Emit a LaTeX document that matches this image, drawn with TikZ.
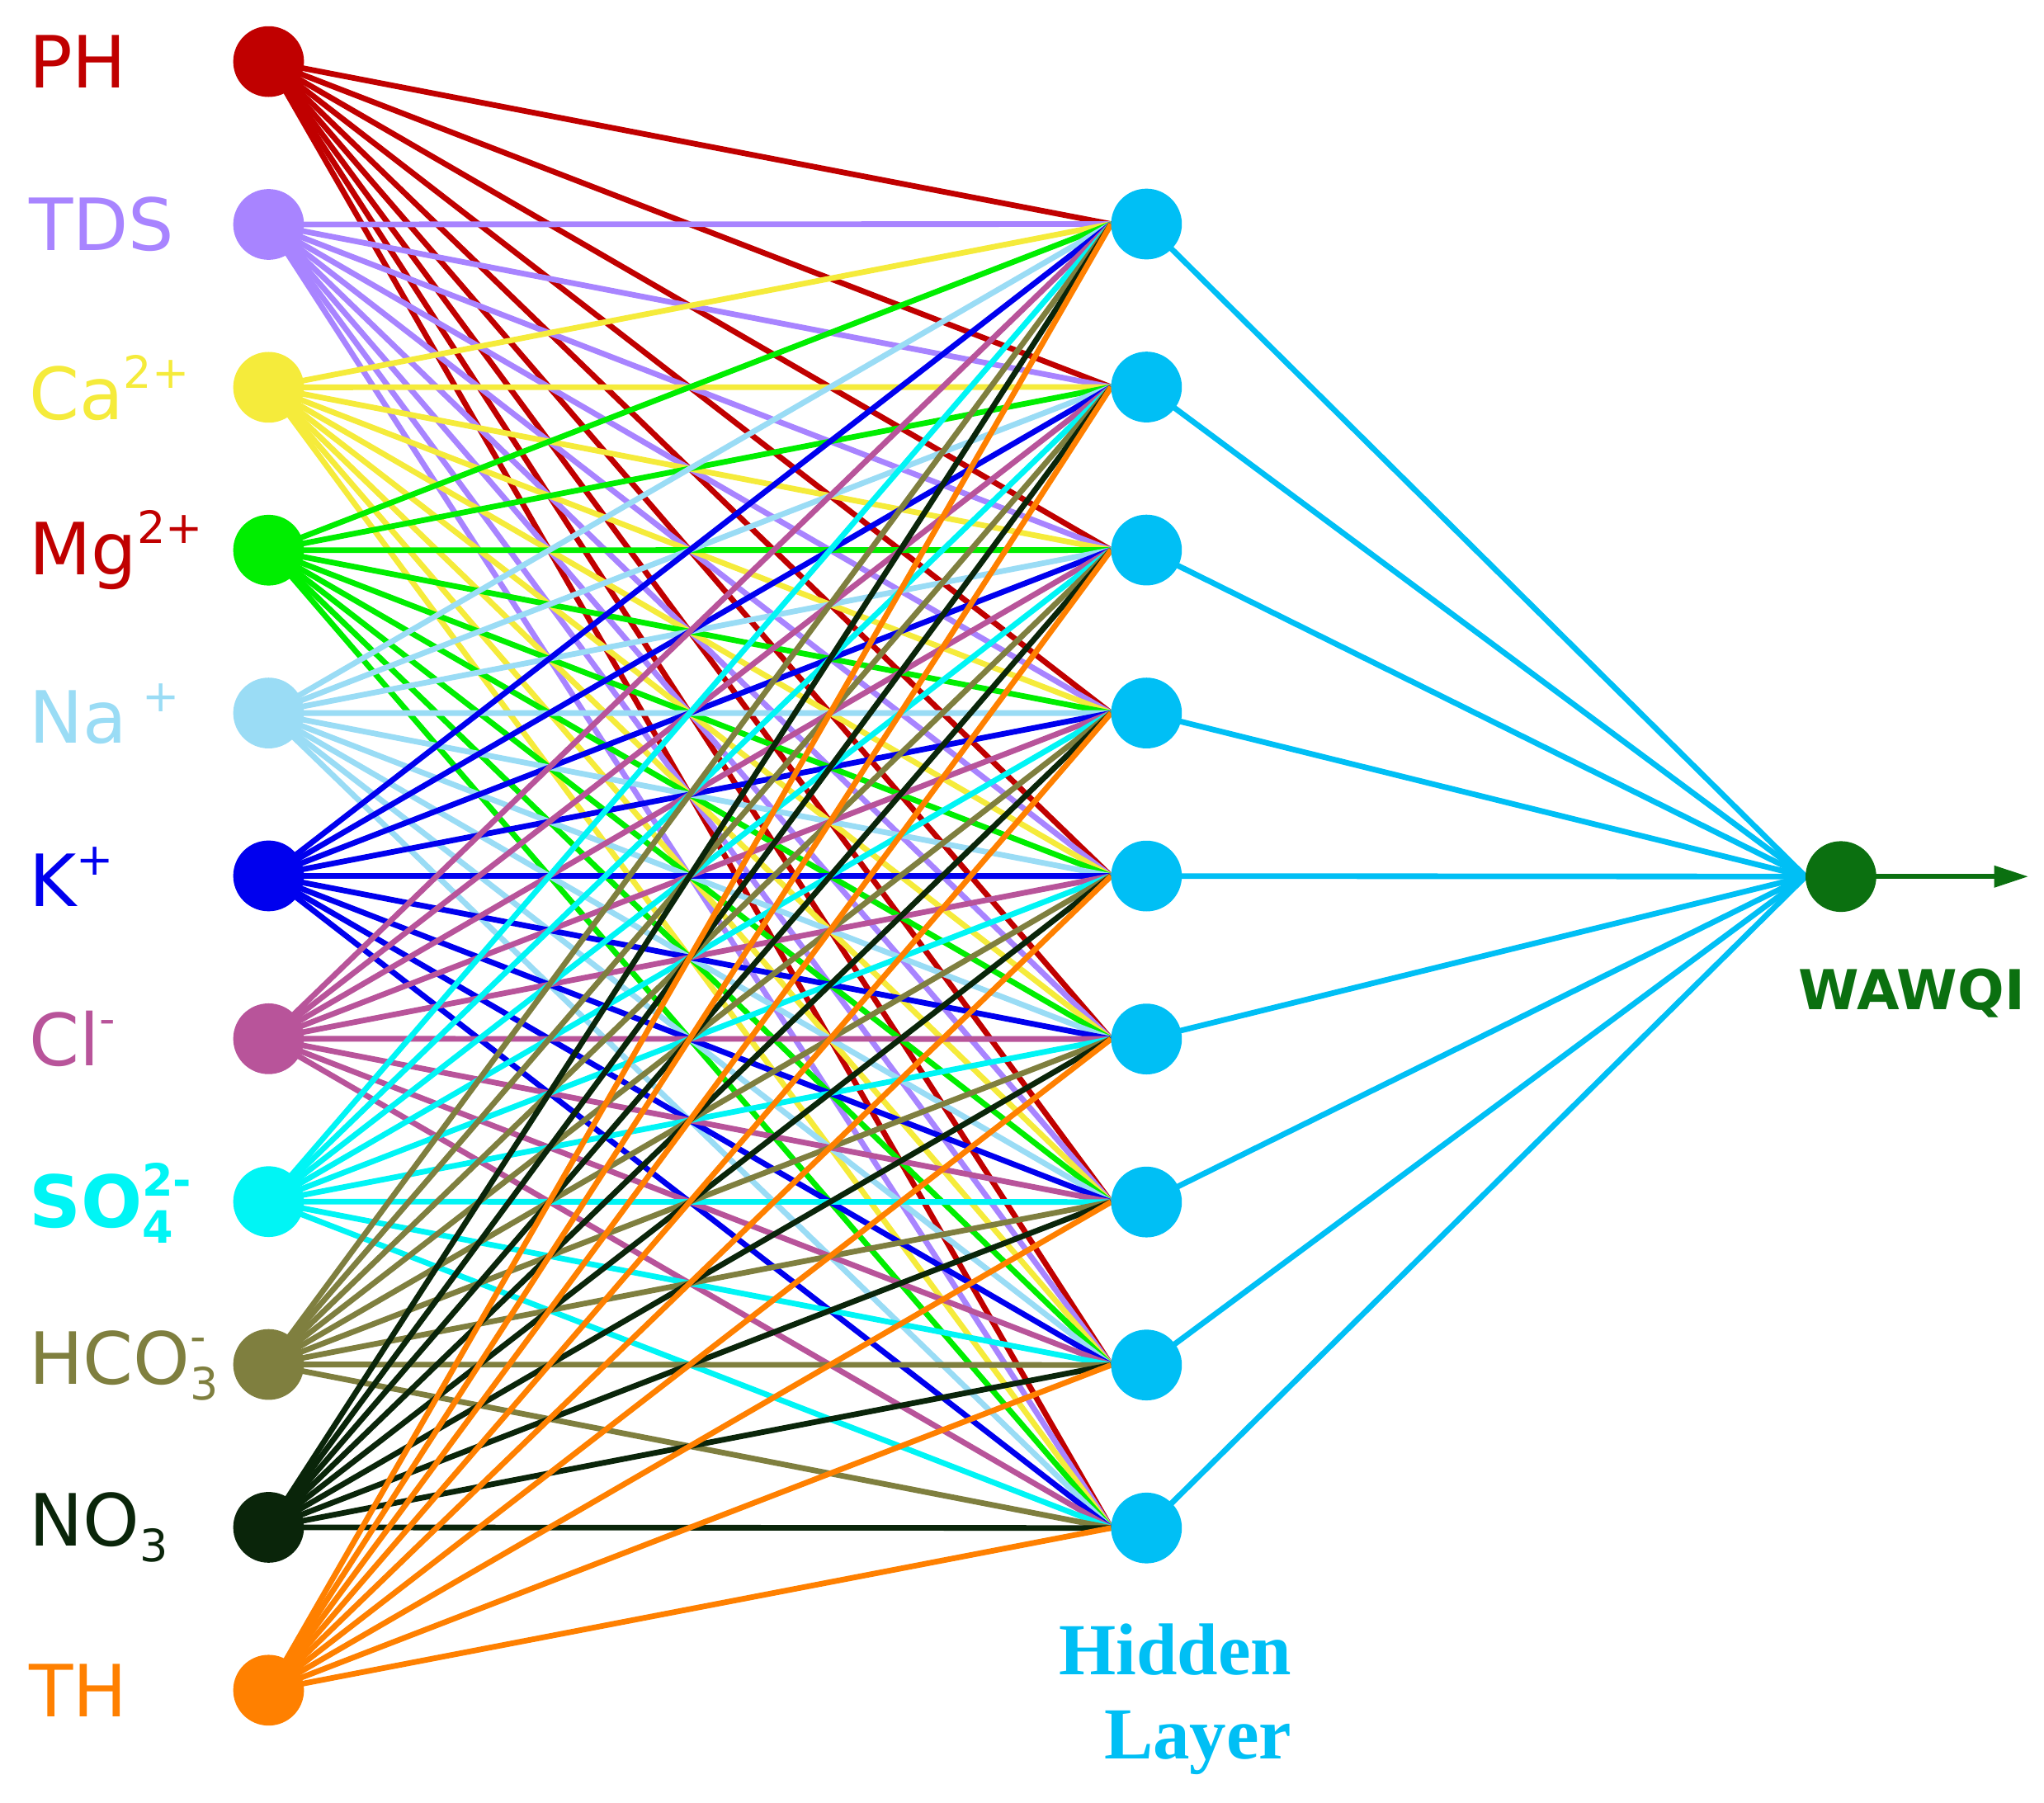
\documentclass[tikz,border=0pt]{standalone}
\usepackage{fontspec}
\setmainfont{DejaVu Sans}
\newfontfamily\hfont{Liberation Serif}
\usetikzlibrary{arrows.meta}
\definecolor{cPH}{HTML}{C00000}
\definecolor{cTDS}{HTML}{A884FF}
\definecolor{cCa}{HTML}{F5EB3B}
\definecolor{cMg}{HTML}{00EE00}
\definecolor{cNa}{HTML}{9ADCF5}
\definecolor{cK}{HTML}{0000EE}
\definecolor{cCl}{HTML}{B8549A}
\definecolor{cSO}{HTML}{00F5F5}
\definecolor{cHC}{HTML}{7F7F3F}
\definecolor{cNO}{HTML}{0A250A}
\definecolor{cTH}{HTML}{FF8000}
\definecolor{cHid}{HTML}{00BFF5}
\definecolor{cOut}{HTML}{0B7010}
\newcommand{\mysup}[1]{\raisebox{24pt}{\fontsize{34}{34}\selectfont #1}}
\newcommand{\mysub}[1]{\raisebox{-12pt}{\fontsize{34}{34}\selectfont #1}}
\newcommand{\mysubsup}[2]{\rlap{\mysub{#1}}\mysup{#2}}
\begin{document}
\begin{tikzpicture}[x=1pt,y=-1pt,
  neuron/.style={circle,minimum size=54pt,inner sep=0pt,fill=#1},
  edge/.style={line width=4.3pt,#1},
  lab/.style={anchor=west,inner sep=0pt,font=\fontsize{55}{58}\selectfont,text=#1}]
\useasboundingbox (0,0) rectangle (1560,1376);
\def\cols{cPH,cTDS,cCa,cMg,cNa,cK,cCl,cSO,cHC,cNO,cTH}
\foreach \c [count=\i] in \cols {\coordinate (i\i) at (205,{47+124.3*(\i-1)});}
\foreach \j in {1,...,9} {\coordinate (h\j) at (875,{171+124.4*(\j-1)}); \coordinate (hl\j) at (848,{171+124.4*(\j-1)});}
\coordinate (o) at (1405,669);
\coordinate (ol) at (1378,669);
\coordinate (arr) at (1548,669);
\foreach \c [count=\i] in \cols {\foreach \j in {1,...,9} {\draw[edge=\c] (i\i) -- (hl\j);}}
\foreach \j in {1,...,9} {\draw[edge=cHid] (h\j) -- (ol);}
\draw[line width=3.5pt,cOut,-{Triangle[length=26pt,width=16pt]}] (o) -- (arr);
\foreach \c [count=\i] in \cols {\node[neuron=\c] (n\i) at (i\i) {};}
\foreach \j in {1,...,9} {\node[neuron=cHid] (m\j) at (h\j) {};}
\node[neuron=cOut] (out) at (o) {};
\node[lab=cPH] at (22,47) {PH};
\node[lab=cTDS] at (22,171) {TDS};
\node[lab=cCa] at (22,296) {Ca\mysup{2+}};
\node[lab=cPH] at (22,420) {Mg\mysup{2+}};
\node[lab=cNa] at (22,545) {Na\mysup{\,\,+}};
\node[lab=cK] at (22,669) {K\mysup{+}};
\node[lab=cCl] at (22,793) {Cl\mysup{-}};
\node[lab=cSO,font=\fontsize{55}{58}\selectfont\bfseries] at (22,918) {SO\mysubsup{4}{2-}};
\node[lab=cHC] at (22,1042) {HCO\mysubsup{3}{-}};
\node[lab=cNO] at (22,1166) {NO\mysub{3}};
\node[lab=cTH] at (22,1290) {TH};
\node[anchor=east,align=right,text=cHid,font=\hfont\bfseries\fontsize{56}{64}\selectfont,inner sep=0pt] (hl) at (986,1297) {Hidden\\Layer};
\node[text=cOut,font=\bfseries\fontsize{42}{46}\selectfont,inner sep=0pt] (wq) at (1459,758) {WAWQI};
\end{tikzpicture}
\end{document}
